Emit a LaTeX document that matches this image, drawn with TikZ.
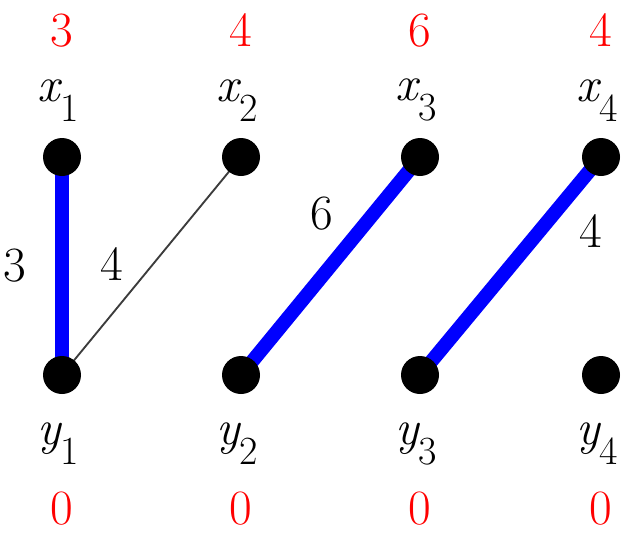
\documentclass[tikz,border=0pt]{standalone}
\usepackage{tikz}
\usetikzlibrary{positioning, backgrounds}
\definecolor{matchblue}{HTML}{0000FF}
\definecolor{potred}{HTML}{FF0000}
\definecolor{edgegray}{HTML}{3C3C3C}
\newcommand{\vlab}[2]{\textit{#1}\kern-1pt\raisebox{-15pt}{\fontsize{30}{30}\selectfont #2}}

\begin{document}
\begin{tikzpicture}[
  x=0.75pt, y=-0.75pt,
  font=\rmfamily\fontsize{37}{40}\selectfont,
  vertex/.style={circle, fill=black, inner sep=0pt, minimum size=28.5pt},
  matched/.style={line width=10.5pt, color=matchblue},
  plain/.style={line width=1.4pt, color=edgegray},
  vlbl/.style={inner sep=0pt, xshift=-3pt},
  pot/.style={inner sep=0pt, text=potred},
  wlbl/.style={inner sep=0pt, text=black},
]
\useasboundingbox (0,0) rectangle (625,537);

\node[vertex] (x1) at (62,157) {};
\node[vertex] (x2) at (241,157) {};
\node[vertex] (x3) at (420,157) {};
\node[vertex] (x4) at (601,157) {};
\node[vertex] (y1) at (62,375) {};
\node[vertex] (y2) at (241,375) {};
\node[vertex] (y3) at (420,375) {};
\node[vertex] (y4) at (601,375) {};

\node[vlbl, above=12pt of x1] {\vlab{x}{1}};
\node[vlbl, above=12pt of x2] {\vlab{x}{2}};
\node[vlbl, above=12pt of x3] {\vlab{x}{3}};
\node[vlbl, above=12pt of x4] {\vlab{x}{4}};
\node[vlbl, below=21pt of y1] {\vlab{y}{1}};
\node[vlbl, below=21pt of y2] {\vlab{y}{2}};
\node[vlbl, below=21pt of y3] {\vlab{y}{3}};
\node[vlbl, below=21pt of y4] {\vlab{y}{4}};

\node[pot, above=68pt of x1] {3};
\node[pot, above=68pt of x2] {4};
\node[pot, above=68pt of x3] {6};
\node[pot, above=68pt of x4] {4};
\node[pot, below=73pt of y1] {0};
\node[pot, below=73pt of y2] {0};
\node[pot, below=73pt of y3] {0};
\node[pot, below=73pt of y4] {0};

\begin{scope}[on background layer]
\draw[matched] (x1.center) -- (y1.center) node[midway, left=22pt, wlbl] {3};
\draw[plain] (x2.center) -- (y1.center) node[pos=0.49, left=22pt, wlbl] {4};
\draw[matched] (x3.center) -- (y2.center) node[pos=0.26, left=25pt, wlbl] {6};
\draw[matched] (x4.center) -- (y3.center) node[pos=0.34, right=25pt, wlbl] {4};
\end{scope}
\end{tikzpicture}
\end{document}
